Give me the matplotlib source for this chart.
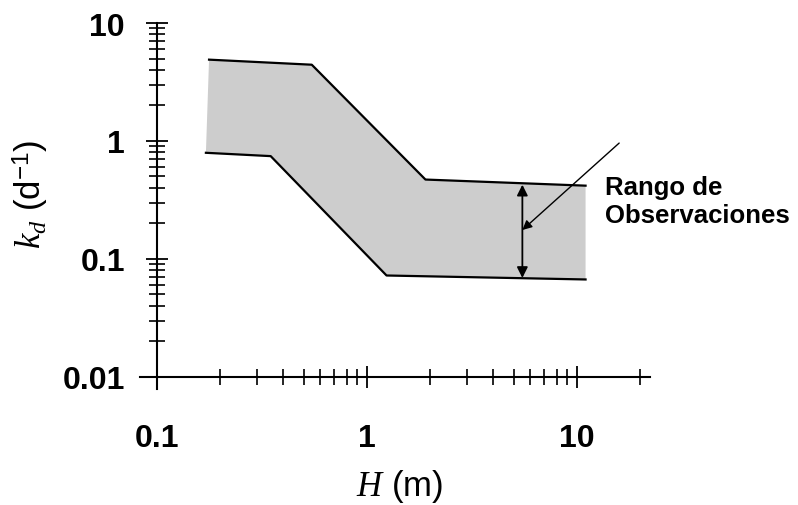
import matplotlib
matplotlib.use('Agg')
import matplotlib.pyplot as plt
from matplotlib.ticker import FixedLocator, FixedFormatter, LogLocator, NullFormatter

plt.rcParams['font.family'] = ['Liberation Sans', 'DejaVu Sans']
plt.rcParams['mathtext.fontset'] = 'custom'
plt.rcParams['mathtext.it'] = 'Liberation Serif:italic'
plt.rcParams['mathtext.rm'] = 'Liberation Sans'
plt.rcParams['mathtext.bf'] = 'Liberation Sans:bold'

# ---- data ----
upper_H = [0.177, 0.546, 1.90, 11.0]
upper_k = [4.89, 4.43, 0.471, 0.418]
lower_H = [0.171, 0.348, 1.24, 11.0]
lower_k = [0.794, 0.744, 0.0724, 0.067]
range_H = 5.5
range_k = [0.069, 0.426]
pointer_from = (15.9, 0.96)
pointer_to = (5.5, 0.176)
x_ticks = [0.1, 1, 10]
x_labels = ['0.1', '1', '10']
y_ticks = [0.01, 0.1, 1, 10]
y_labels = ['0.01', '0.1', '1', '10']
annot_lines = ['Rango de', 'Observaciones']

fig = plt.figure(figsize=(7.98, 5.06), dpi=100)
ax = fig.add_axes([140 / 798, 116 / 506, 510 / 798, 366 / 506])
ax.set_xscale('log')
ax.set_yscale('log')
ax.set_xlim(0.083, 22.3)
ax.set_ylim(0.0079, 10)

# band
ax.fill(upper_H + lower_H[::-1], upper_k + lower_k[::-1],
        facecolor='#cdcdcd', edgecolor='none', zorder=1)
ax.plot(upper_H, upper_k, color='black', lw=1.6, zorder=2)
ax.plot(lower_H, lower_k, color='black', lw=1.6, zorder=2)

# double arrow
ax.annotate('', xy=(range_H, range_k[0]), xytext=(range_H, range_k[1]),
            arrowprops=dict(arrowstyle='<|-|>', color='black', lw=1.3,
                            mutation_scale=16, shrinkA=0, shrinkB=0), zorder=3)
# pointer
ax.annotate('', xy=pointer_to, xytext=pointer_from,
            arrowprops=dict(arrowstyle='-|>', color='black', lw=1.0,
                            mutation_scale=14, shrinkA=0, shrinkB=0), zorder=3)

# spines
for s in ['top', 'right']:
    ax.spines[s].set_visible(False)
ax.spines['left'].set_position(('data', 0.1))
ax.spines['bottom'].set_position(('data', 0.01))
for s in ['left', 'bottom']:
    ax.spines[s].set_linewidth(1.5)


class InRangeLogLocator(LogLocator):
    """Minor log ticks restricted to the labelled decades."""
    def __init__(self, lo, hi, **kw):
        super().__init__(**kw)
        self.lo, self.hi = lo, hi

    def __call__(self):
        return [t for t in super().__call__() if self.lo < t < self.hi]


ax.xaxis.set_major_locator(FixedLocator(x_ticks))
ax.xaxis.set_major_formatter(FixedFormatter(x_labels))
ax.yaxis.set_major_locator(FixedLocator(y_ticks))
ax.yaxis.set_major_formatter(FixedFormatter(y_labels))
ax.xaxis.set_minor_locator(InRangeLogLocator(0.1, 21, base=10, subs=range(2, 10)))
ax.yaxis.set_minor_locator(InRangeLogLocator(0.01, 10, base=10, subs=range(2, 10)))
ax.xaxis.set_minor_formatter(NullFormatter())
ax.yaxis.set_minor_formatter(NullFormatter())

ax.tick_params(which='major', direction='inout', length=16, width=1.3)
ax.tick_params(which='minor', direction='inout', length=12, width=1.2)
ax.tick_params(axis='x', which='major', pad=25)
ax.tick_params(axis='y', which='major', pad=15)
for lab in ax.get_xticklabels() + ax.get_yticklabels():
    lab.set_fontsize(23)
    lab.set_fontweight('bold')

fig.text(31 / 798, (506 - 194) / 506, r'$k_d$ (d$^{-1}$)', rotation=90,
         ha='center', va='center', fontsize=25)
fig.text(400 / 798, (506 - 496) / 506, r'$H$ (m)', ha='center',
         va='baseline', fontsize=25)

fig.text(605 / 798, (506 - 195) / 506, annot_lines[0], fontsize=18.5,
         fontweight='bold', ha='left', va='baseline')
fig.text(605 / 798, (506 - 223) / 506, annot_lines[1], fontsize=18.5,
         fontweight='bold', ha='left', va='baseline')

fig.savefig('out.png', dpi=100, facecolor='white')
